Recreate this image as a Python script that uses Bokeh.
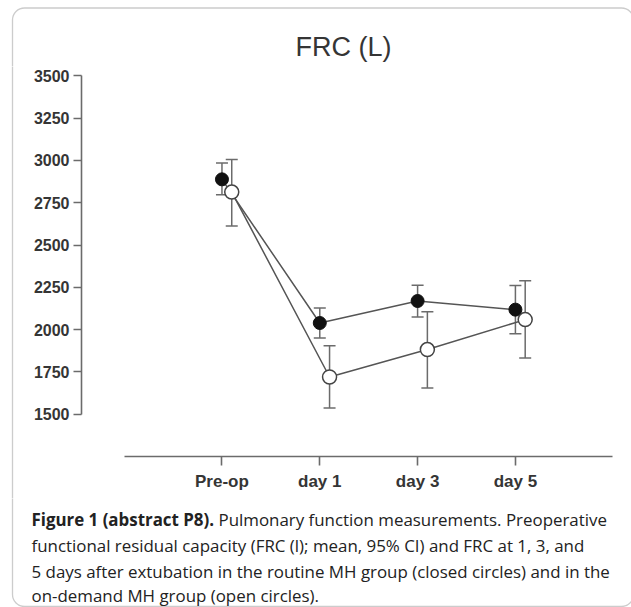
from bokeh.plotting import figure
from bokeh.layouts import column, row
from bokeh.models import (ColumnDataSource, Whisker, TeeHead, FixedTicker, Label,
                          BoxAnnotation, Range1d)
from bokeh.embed import file_html
from bokeh.resources import INLINE

# ---------------- data ----------------
categories = ["Pre-op", "day 1", "day 3", "day 5"]
closed_mean = [2888, 2039, 2169, 2118]
closed_lower = [2797, 1950, 2074, 1976]
closed_upper = [2984, 2128, 2262, 2260]
open_mean = [2813, 1720, 1882, 2059]
open_lower = [2612, 1537, 1655, 1832]
open_upper = [3006, 1905, 2106, 2289]
y_ticks = [1500, 1750, 2000, 2250, 2500, 2750, 3000, 3250, 3500]

title_text = "FRC (L)"
caption_bold = "Figure 1 (abstract P8)."
caption_first = "Pulmonary function measurements. Preoperative"
caption_rest = [
    "functional residual capacity (FRC (l); mean, 95% CI) and FRC at 1, 3, and",
    "5 days after extubation in the routine MH group (closed circles) and in the",
    "on-demand MH group (open circles).",
]

# ---------------- layout constants (page pixels) ----------------
W, H = 631, 607
TOP_H = 66          # strip holding title and top of the frame box
MID_B = 498         # bottom of chart row
LEFT_W = 30         # strip holding the left edge of the frame box
FRAME_L, FRAME_R = 80, 614
FRAME_B = 456
DODGE = 0.1

AX = "#6b6b6b"
TXT = "#353535"
BOX = "#555555"
BOX_KW = dict(left=12, right=633, top=7.5, bottom=606, fill_color=None, fill_alpha=0,
              line_color=BOX, line_width=1.3, border_radius=12)


def no_align(f):
    if "frame_align" in f.properties():
        f.frame_align = False
    return f


def strip(width, height, x0, y0):
    """Blank figure whose data coordinates equal page pixels."""
    f = figure(width=width, height=height, output_backend="svg", toolbar_location=None,
               x_range=Range1d(x0, x0 + width), y_range=Range1d(y0 + height, y0),
               x_axis_type=None, y_axis_type=None, min_border=0,
               outline_line_color=None, background_fill_color="white",
               border_fill_color="white")
    f.grid.visible = False
    f.add_layout(BoxAnnotation(**BOX_KW))
    return no_align(f)


# ---- top strip: title ----
top = strip(W, TOP_H, 0, 0)
top.add_layout(Label(x=343, y=46, text=title_text, text_align="center",
                     text_baseline="alphabetic", text_font="Liberation Sans",
                     text_font_size="27px", text_color=TXT))

# ---- left strip ----
left = strip(LEFT_W, MID_B - TOP_H, 0, TOP_H)

# ---- chart ----
x_idx = list(range(len(categories)))
x_open = [i + DODGE for i in x_idx]

CH_W = W - LEFT_W
CH_H = MID_B - TOP_H
p = figure(width=CH_W, height=CH_H, output_backend="svg", toolbar_location=None,
           x_range=Range1d(-1.436, 4.013), y_range=Range1d(1250, 3555),
           min_border_left=FRAME_L - LEFT_W, min_border_right=W - FRAME_R,
           min_border_top=0, min_border_bottom=MID_B - FRAME_B,
           outline_line_color=None, background_fill_color="white",
           border_fill_color="white")
no_align(p)
p.grid.visible = False

p.xaxis.ticker = FixedTicker(ticks=x_idx)
p.xaxis.major_label_overrides = {i: c for i, c in enumerate(categories)}
p.xaxis.bounds = (-1.0, 3.99)
p.yaxis.ticker = FixedTicker(ticks=y_ticks)
p.yaxis.bounds = (y_ticks[0], y_ticks[-1])
for ax in (p.xaxis, p.yaxis):
    ax.axis_line_color = AX
    ax.axis_line_width = 1.6
    ax.major_tick_line_color = AX
    ax.major_tick_line_width = 1.6
    ax.major_tick_in = 0
    ax.minor_tick_line_color = None
    ax.major_label_text_font = "Liberation Sans"
    ax.major_label_text_font_style = "bold"
    ax.major_label_text_color = TXT
p.xaxis.major_tick_out = 9
p.xaxis.major_label_standoff = 6
p.xaxis.major_label_text_font_size = "17px"
p.yaxis.major_tick_out = 8
p.yaxis.major_label_standoff = 4
p.yaxis.major_label_text_font_size = "16px"

src_c = ColumnDataSource(dict(x=x_idx, y=closed_mean, lo=closed_lower, hi=closed_upper))
src_o = ColumnDataSource(dict(x=x_open, y=open_mean, lo=open_lower, hi=open_upper))

LINE = "#555555"
p.line("x", "y", source=src_c, line_color=LINE, line_width=1.5)
p.line("x", "y", source=src_o, line_color=LINE, line_width=1.5)

for src in (src_c, src_o):
    p.add_layout(Whisker(base="x", lower="lo", upper="hi", source=src, dimension="height",
                         line_color=AX, line_width=1.5, level="underlay",
                         upper_head=TeeHead(size=12, line_color=AX, line_width=1.5),
                         lower_head=TeeHead(size=12, line_color=AX, line_width=1.5)))

p.scatter("x", "y", source=src_c, size=13, fill_color="#111111", line_color="#111111")
p.scatter("x", "y", source=src_o, size=14, fill_color="white", line_color="#444444",
          line_width=1.5)

# ---- caption strip ----
cap = strip(W, H - MID_B, 0, MID_B)
CAP_X = 31
CAP_X2 = 218
base_lines = [519, 545, 570.5, 595]
CAP_KW = dict(text_baseline="alphabetic", text_font="Open Sans",
              text_font_size="16.9px", text_color="#222222")
cap.add_layout(Label(x=CAP_X, y=base_lines[0], text=caption_bold,
                     text_font_style="bold", **CAP_KW))
cap.add_layout(Label(x=CAP_X2, y=base_lines[0], text=caption_first, **CAP_KW))
for txt, b in zip(caption_rest, base_lines[1:]):
    cap.add_layout(Label(x=CAP_X, y=b, text=txt, **CAP_KW))

layout = column(top, row(left, p, spacing=0), cap, spacing=0)

open("out.html", "w").write(file_html(layout, INLINE))
